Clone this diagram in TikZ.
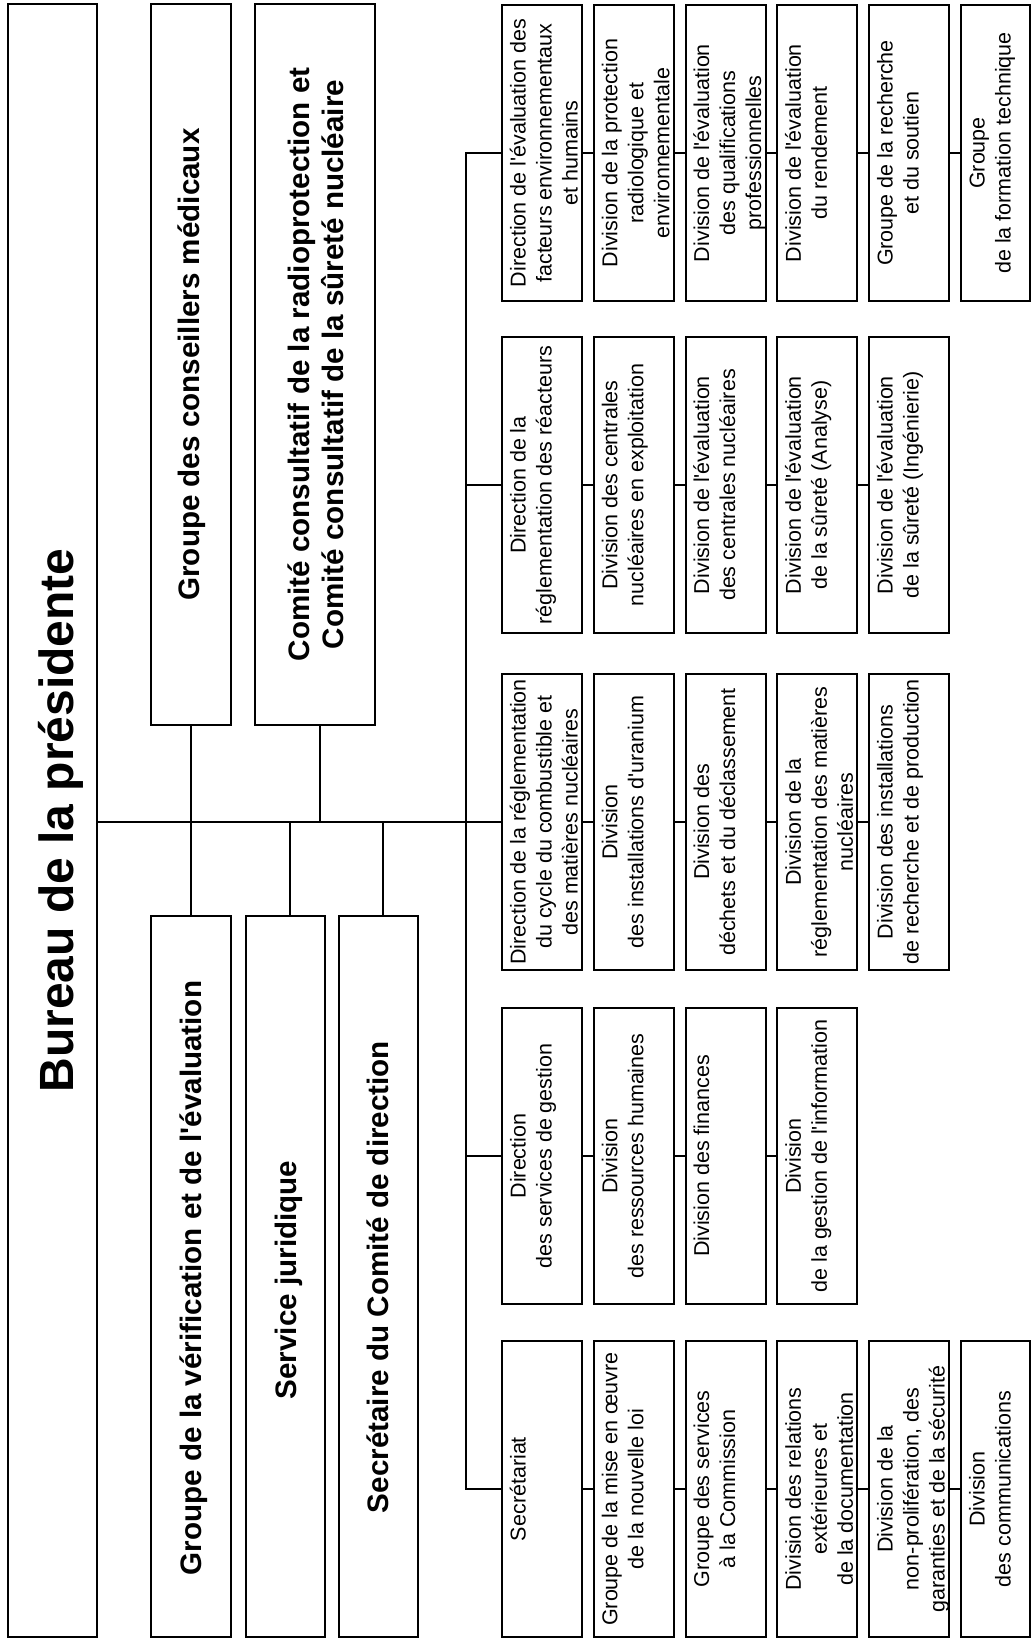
\documentclass[tikz,border=0pt]{standalone}
\usepackage{fontspec}
\newfontfamily\lsans{Liberation Sans}
\newcommand{\smallf}{\lsans\fontsize{10.75pt}{13pt}\selectfont}
\newcommand{\bigf}{\lsans\bfseries\fontsize{14.8pt}{17pt}\selectfont}
\newcommand{\hugef}{\lsans\bfseries\fontsize{24pt}{28pt}\selectfont}
\newcommand{\bxt}[2][40pt]{\parbox[c][#1][t]{147pt}{\centering\rule{0pt}{11.75pt}#2\par}}
\newcommand{\apo}{\textquotesingle}
\begin{document}
\begin{tikzpicture}[x=0.5pt,y=-0.5pt,
  sbox/.style={draw, line width=1pt, rotate=90, inner sep=0pt, minimum width=148pt, font=\smallf},
  bbox/.style={draw, line width=1pt, inner sep=0pt},
  btxt/.style={rotate=90, font=\bigf, align=center, inner sep=0pt},
  link/.style={line width=1pt}]
\useasboundingbox (0,0) rectangle (1031,1639);

% top-level boxes
\node[bbox, minimum width=44.5pt, minimum height=816.5pt] (bureau) at (52.5,820.5) {};
\node[anchor=base, rotate=90, font=\hugef, inner sep=0pt] (bureaut) at (73,820.5) {Bureau de la présidente};

\node[bbox, minimum width=40pt, minimum height=360.5pt] (conseil) at (191,364.5) {};
\node[bbox, minimum width=60pt, minimum height=360.5pt] (comite) at (315,364.5) {};
\node[bbox, minimum width=40pt, minimum height=360.5pt] (verif) at (191,1276.5) {};
\node[bbox, minimum width=39.5pt, minimum height=360.5pt] (jurid) at (285.5,1276.5) {};
\node[bbox, minimum width=39.5pt, minimum height=360.5pt] (secr) at (378.5,1276.5) {};

\node[btxt, anchor=base] (conseilt) at (199,364.5) {Groupe des conseillers médicaux};
\node[btxt] (comitet) at (316,364.5) {Comité consultatif de la radioprotection et\\Comité consultatif de la sûreté nucléaire};
\node[btxt, anchor=base] (verift) at (201,1278) {Groupe de la vérification et de l\apo évaluation};
\node[btxt, anchor=base] (juridt) at (296,1280) {Service juridique};
\node[btxt, anchor=base] (secrt) at (388,1277) {Secrétaire du Comité de direction};

% row 1
\node[sbox] (r1c1) at (542,153) {\bxt{Direction de l\apo évaluation des\\facteurs environnementaux\\et humains}};
\node[sbox] (r1c2) at (633.8,153) {\bxt{Division de la protection\\radiologique et\\environnementale}};
\node[sbox] (r1c3) at (725.6,153) {\bxt{Division de l\apo évaluation\\des qualifications\\professionnelles}};
\node[sbox] (r1c4) at (817.4,153) {\bxt{Division de l\apo évaluation\\du rendement}};
\node[sbox] (r1c5) at (909.2,153) {\bxt{Groupe de la recherche\\et du soutien}};
\node[sbox] (r1c6) at (995.5,153) {\bxt[34.5pt]{Groupe\\de la formation technique}};
% row 2
\node[sbox] (r2c1) at (542,485) {\bxt{Direction de la\\réglementation des réacteurs}};
\node[sbox] (r2c2) at (633.8,485) {\bxt{Division des centrales\\nucléaires en exploitation}};
\node[sbox] (r2c3) at (725.6,485) {\bxt{Division de l\apo évaluation\\des centrales nucléaires}};
\node[sbox] (r2c4) at (817.4,485) {\bxt{Division de l\apo évaluation\\de la sûreté (Analyse)}};
\node[sbox] (r2c5) at (909.2,485) {\bxt{Division de l\apo évaluation\\de la sûreté (Ingénierie)}};
% row 3
\node[sbox] (r3c1) at (542,822) {\bxt{Direction de la réglementation\\du cycle du combustible et\\des matières nucléaires}};
\node[sbox] (r3c2) at (633.8,822) {\bxt{Division\\des installations d\apo uranium}};
\node[sbox] (r3c3) at (725.6,822) {\bxt{Division des\\déchets et du déclassement}};
\node[sbox] (r3c4) at (817.4,822) {\bxt{Division de la\\réglementation des matières\\nucléaires}};
\node[sbox] (r3c5) at (909.2,822) {\bxt{Division des installations\\de recherche et de production}};
% row 4
\node[sbox] (r4c1) at (542,1156) {\bxt{Direction\\des services de gestion}};
\node[sbox] (r4c2) at (633.8,1156) {\bxt{Division\\des ressources humaines}};
\node[sbox] (r4c3) at (725.6,1156) {\bxt{Division des finances}};
\node[sbox] (r4c4) at (817.4,1156) {\bxt{Division\\de la gestion de l\apo information}};
% row 5
\node[sbox] (r5c1) at (542,1489) {\bxt{Secrétariat}};
\node[sbox] (r5c2) at (633.8,1489) {\bxt{Groupe de la mise en œuvre\\de la nouvelle loi}};
\node[sbox] (r5c3) at (725.6,1489) {\bxt{Groupe des services\\à la Commission}};
\node[sbox] (r5c4) at (817.4,1489) {\bxt{Division des relations\\extérieures et\\de la documentation}};
\node[sbox] (r5c5) at (909.2,1489) {\bxt{Division de la\\non-prolifération, des\\garanties et de la sécurité}};
\node[sbox] (r5c6) at (995.5,1489) {\bxt[34.5pt]{Division\\des communications}};

% connectors
\coordinate (trunk) at (466,0);
\draw[link] (bureau.east |- r3c1.north) -- (r3c1.north);
\draw[link] (conseil.south) -- (conseil.south |- r3c1.north);
\draw[link] ([xshift=2.5pt]comite.south) -- ([xshift=2.5pt]comite.south |- r3c1.north);
\draw[link] (verif.north) -- (verif.north |- r3c1.north);
\draw[link] ([xshift=2pt]jurid.north) -- ([xshift=2pt]jurid.north |- r3c1.north);
\draw[link] ([xshift=2pt]secr.north) -- ([xshift=2pt]secr.north |- r3c1.north);
\draw[link] (r1c1.north) -- (r1c1.north -| trunk) -- (r5c1.north -| trunk) -- (r5c1.north);
\draw[link] (r2c1.north) -- (r2c1.north -| trunk);
\draw[link] (r4c1.north) -- (r4c1.north -| trunk);
\foreach \rw/\mx in {1/5,2/4,3/4,4/3,5/5} {
  \foreach \cl in {1,...,\mx} {
    \pgfmathtruncatemacro{\nx}{\cl+1}
    \draw[link] (r\rw c\cl.south) -- (r\rw c\nx.north);
  }
}
\end{tikzpicture}
\end{document}
